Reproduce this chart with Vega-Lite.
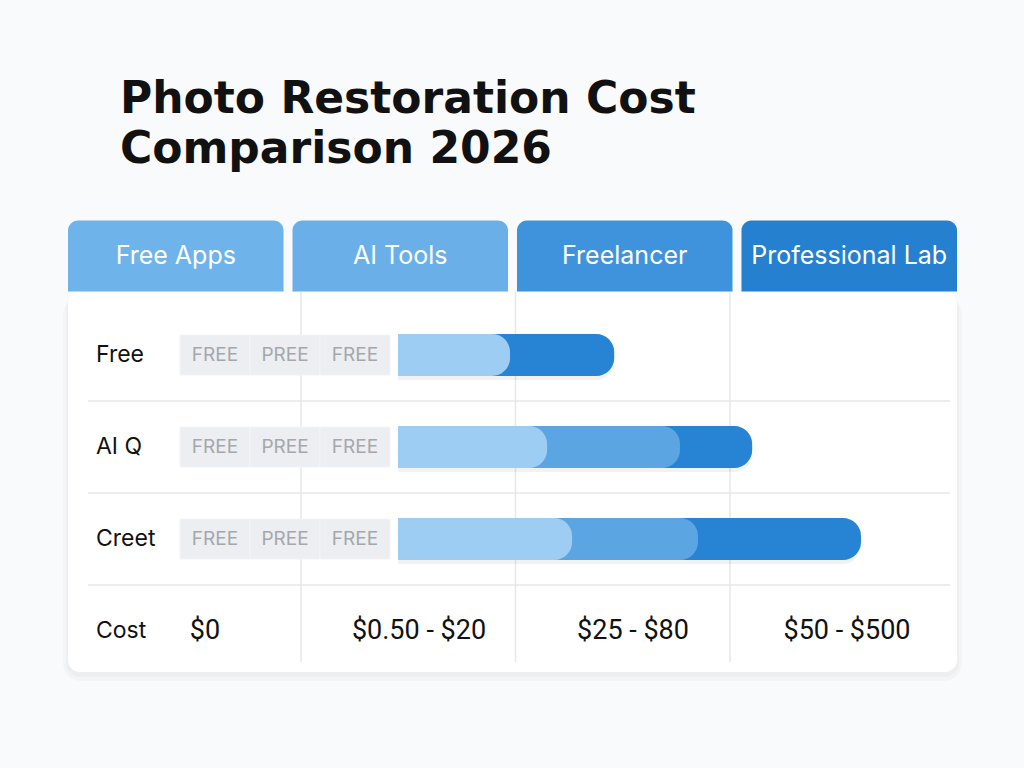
{
  "$schema": "https://vega.github.io/schema/vega-lite/v6.json",
  "width": 1024,
  "height": 568,
  "autosize": {"type": "none"},
  "padding": {"top": 200, "left": 0, "right": 0, "bottom": 0},
  "background": "#f9fafb",
  "title": {
    "text": ["Photo Restoration Cost", "Comparison 2026"],
    "anchor": "start",
    "frame": "group",
    "dx": 120,
    "offset": 28,
    "font": "DejaVu Sans",
    "fontSize": 44,
    "fontWeight": "bold",
    "lineHeight": 50,
    "color": "#111111"
  },
  "config": {
    "view": {"stroke": null},
    "axis": {"disable": true},
    "legend": {"disable": true}
  },
  "datasets": {
    "columns": [
      {"col": "Free Apps", "cost": "$0"},
      {"col": "AI Tools", "cost": "$0.50 - $20"},
      {"col": "Freelancer", "cost": "$25 - $80"},
      {"col": "Professional Lab", "cost": "$50 - $500"}
    ],
    "vlines": [
      {"col": "AI Tools"},
      {"col": "Freelancer"},
      {"col": "Professional Lab"}
    ],
    "rows": [
      {"row": "Free"},
      {"row": "AI Q"},
      {"row": "Creet"},
      {"row": "Cost"}
    ],
    "hlines": [
      {"row": "AI Q"},
      {"row": "Creet"},
      {"row": "Cost"}
    ],
    "slots": [
      {"row": "Free", "slot": 1, "tag": "FREE"},
      {"row": "Free", "slot": 2, "tag": "PREE"},
      {"row": "Free", "slot": 3, "tag": "FREE"},
      {"row": "AI Q", "slot": 1, "tag": "FREE"},
      {"row": "AI Q", "slot": 2, "tag": "PREE"},
      {"row": "AI Q", "slot": 3, "tag": "FREE"},
      {"row": "Creet", "slot": 1, "tag": "FREE"},
      {"row": "Creet", "slot": 2, "tag": "PREE"},
      {"row": "Creet", "slot": 3, "tag": "FREE"}
    ],
    "bars": [
      {"row": "Free", "tier": "Premium", "value": 46.7},
      {"row": "Free", "tier": "Basic", "value": 24.2},
      {"row": "AI Q", "tier": "Premium", "value": 76.5},
      {"row": "AI Q", "tier": "Standard", "value": 60.9},
      {"row": "AI Q", "tier": "Basic", "value": 32.2},
      {"row": "Creet", "tier": "Premium", "value": 100},
      {"row": "Creet", "tier": "Standard", "value": 64.8},
      {"row": "Creet", "tier": "Basic", "value": 37.6}
    ]
  },
  "resolve": {"scale": {"x": "independent", "color": "independent"}},
  "layer": [
    {
      "layer": [
        {
          "data": {"values": [{}]},
          "mark": {"type": "rect", "fill": "#000000", "opacity": 0.025, "cornerRadius": 18, "yOffset": -12, "y2Offset": 4, "xOffset": -5, "x2Offset": 5},
          "encoding": {
            "x": {"datum": "Free Apps", "type": "nominal", "bandPosition": 0, "scale": {"type": "band", "domain": ["Free Apps", "AI Tools", "Freelancer", "Professional Lab"], "range": [68, 957], "paddingInner": 0.04, "paddingOuter": 0}},
            "x2": {"datum": "Professional Lab", "bandPosition": 1},
            "y": {"datum": "Free", "type": "nominal", "bandPosition": 0, "scale": {"type": "band", "domain": ["header", "Free", "AI Q", "Creet", "Cost"], "range": [17, 477], "paddingInner": 0, "paddingOuter": 0}},
            "y2": {"datum": "Cost", "bandPosition": 1}
          }
        },
        {
          "data": {"values": [{}]},
          "mark": {"type": "rect", "fill": "#000000", "opacity": 0.025, "cornerRadius": 14, "yOffset": -15, "y2Offset": 0, "xOffset": -2, "x2Offset": 2},
          "encoding": {
            "x": {"datum": "Free Apps", "type": "nominal", "bandPosition": 0, "scale": {"type": "band", "domain": ["Free Apps", "AI Tools", "Freelancer", "Professional Lab"], "range": [68, 957], "paddingInner": 0.04, "paddingOuter": 0}},
            "x2": {"datum": "Professional Lab", "bandPosition": 1},
            "y": {"datum": "Free", "type": "nominal", "bandPosition": 0, "scale": {"type": "band", "domain": ["header", "Free", "AI Q", "Creet", "Cost"], "range": [17, 477], "paddingInner": 0, "paddingOuter": 0}},
            "y2": {"datum": "Cost", "bandPosition": 1}
          }
        },
        {
          "data": {"values": [{}]},
          "mark": {"type": "rect", "fill": "#ffffff", "cornerRadius": 12, "yOffset": -17, "y2Offset": -5},
          "encoding": {
            "x": {"datum": "Free Apps", "type": "nominal", "bandPosition": 0, "scale": {"type": "band", "domain": ["Free Apps", "AI Tools", "Freelancer", "Professional Lab"], "range": [68, 957], "paddingInner": 0.04, "paddingOuter": 0}},
            "x2": {"datum": "Professional Lab", "bandPosition": 1},
            "y": {"datum": "Free", "type": "nominal", "bandPosition": 0, "scale": {"type": "band", "domain": ["header", "Free", "AI Q", "Creet", "Cost"], "range": [17, 477], "paddingInner": 0, "paddingOuter": 0}},
            "y2": {"datum": "Cost", "bandPosition": 1}
          }
        },
        {
          "data": {"name": "hlines"},
          "mark": {"type": "rule", "color": "#e5e7ea", "strokeWidth": 1.5, "xOffset": 20, "x2Offset": -7},
          "encoding": {
            "x": {"datum": "Free Apps", "type": "nominal", "bandPosition": 0, "scale": {"type": "band", "domain": ["Free Apps", "AI Tools", "Freelancer", "Professional Lab"], "range": [68, 957], "paddingInner": 0.04, "paddingOuter": 0}},
            "x2": {"datum": "Professional Lab", "bandPosition": 1},
            "y": {"field": "row", "type": "nominal", "bandPosition": 0, "scale": {"type": "band", "domain": ["header", "Free", "AI Q", "Creet", "Cost"], "range": [17, 477], "paddingInner": 0, "paddingOuter": 0}}
          }
        },
        {
          "data": {"name": "columns"},
          "mark": {"type": "rect", "height": 71, "yOffset": -7, "cornerRadiusTopLeft": 10, "cornerRadiusTopRight": 10},
          "encoding": {
            "x": {"field": "col", "type": "nominal", "scale": {"type": "band", "domain": ["Free Apps", "AI Tools", "Freelancer", "Professional Lab"], "range": [68, 957], "paddingInner": 0.04, "paddingOuter": 0}},
            "y": {"datum": "header", "type": "nominal", "scale": {"type": "band", "domain": ["header", "Free", "AI Q", "Creet", "Cost"], "range": [17, 477], "paddingInner": 0, "paddingOuter": 0}},
            "color": {"field": "col", "type": "nominal", "scale": {"domain": ["Free Apps", "AI Tools", "Freelancer", "Professional Lab"], "range": ["#6eb3e9", "#6aafe7", "#3f93dc", "#2580d0"]}}
          }
        },
        {
          "data": {"name": "columns"},
          "mark": {"type": "text", "color": "#ffffff", "font": "Inter", "fontSize": 25, "fontWeight": 400, "yOffset": -7},
          "encoding": {
            "x": {"field": "col", "type": "nominal", "scale": {"type": "band", "domain": ["Free Apps", "AI Tools", "Freelancer", "Professional Lab"], "range": [68, 957], "paddingInner": 0.04, "paddingOuter": 0}},
            "y": {"datum": "header", "type": "nominal", "scale": {"type": "band", "domain": ["header", "Free", "AI Q", "Creet", "Cost"], "range": [17, 477], "paddingInner": 0, "paddingOuter": 0}},
            "text": {"field": "col"}
          }
        },
        {
          "data": {"name": "rows"},
          "mark": {"type": "text", "color": "#111111", "font": "Inter", "fontSize": 23, "fontWeight": 400, "align": "left", "dx": 28},
          "encoding": {
            "x": {"datum": "Free Apps", "type": "nominal", "bandPosition": 0, "scale": {"type": "band", "domain": ["Free Apps", "AI Tools", "Freelancer", "Professional Lab"], "range": [68, 957], "paddingInner": 0.04, "paddingOuter": 0}},
            "y": {"field": "row", "type": "nominal", "scale": {"type": "band", "domain": ["header", "Free", "AI Q", "Creet", "Cost"], "range": [17, 477], "paddingInner": 0, "paddingOuter": 0}},
            "text": {"field": "row"}
          }
        }
      ]
    },
    {
      "data": {"name": "vlines"},
      "mark": {"type": "rule", "color": "#e5e7ea", "strokeWidth": 1.5, "yOffset": -17, "y2Offset": -15},
      "encoding": {
        "x": {"field": "col", "type": "nominal", "bandPosition": 0, "scale": {"type": "band", "domain": ["AI Tools", "Freelancer", "Professional Lab"], "range": [301, 944.5], "paddingInner": 0, "paddingOuter": 0}},
        "y": {"datum": "Free", "type": "nominal", "bandPosition": 0, "scale": {"type": "band", "domain": ["header", "Free", "AI Q", "Creet", "Cost"], "range": [17, 477], "paddingInner": 0, "paddingOuter": 0}},
        "y2": {"datum": "Cost", "bandPosition": 1}
      }
    },
    {
      "data": {"name": "slots"},
      "layer": [
        {
          "mark": {"type": "rect", "fill": "#eceef1", "stroke": "#f3f4f6", "strokeWidth": 1, "height": 40},
          "encoding": {
            "x": {"field": "slot", "type": "ordinal", "scale": {"type": "band", "domain": [1, 2, 3], "range": [180, 390], "paddingInner": 0, "paddingOuter": 0}},
            "y": {"field": "row", "type": "nominal", "scale": {"type": "band", "domain": ["header", "Free", "AI Q", "Creet", "Cost"], "range": [17, 477], "paddingInner": 0, "paddingOuter": 0}}
          }
        },
        {
          "mark": {"type": "text", "color": "#a4a8ad", "font": "Inter", "fontSize": 19, "fontWeight": 400},
          "encoding": {
            "x": {"field": "slot", "type": "ordinal", "scale": {"type": "band", "domain": [1, 2, 3], "range": [180, 390], "paddingInner": 0, "paddingOuter": 0}},
            "y": {"field": "row", "type": "nominal", "scale": {"type": "band", "domain": ["header", "Free", "AI Q", "Creet", "Cost"], "range": [17, 477], "paddingInner": 0, "paddingOuter": 0}},
            "text": {"field": "tag"}
          }
        }
      ]
    },
    {
      "data": {"name": "bars"},
      "transform": [{"filter": "datum.tier === 'Premium'"}],
      "mark": {"type": "bar", "size": 42, "cornerRadiusEnd": 18, "color": "#000000", "opacity": 0.05, "yOffset": 4, "x2Offset": 3},
      "encoding": {
        "x": {"field": "value", "type": "quantitative", "stack": null, "scale": {"domain": [0, 100], "range": [398, 861]}},
        "y": {"field": "row", "type": "nominal", "scale": {"type": "band", "domain": ["header", "Free", "AI Q", "Creet", "Cost"], "range": [17, 477], "paddingInner": 0, "paddingOuter": 0}}
      }
    },
    {
      "data": {"name": "bars"},
      "mark": {"type": "bar", "size": 42, "cornerRadiusEnd": 18},
      "encoding": {
        "x": {"field": "value", "type": "quantitative", "stack": null, "scale": {"domain": [0, 100], "range": [398, 861]}},
        "y": {"field": "row", "type": "nominal", "scale": {"type": "band", "domain": ["header", "Free", "AI Q", "Creet", "Cost"], "range": [17, 477], "paddingInner": 0, "paddingOuter": 0}},
        "color": {"field": "tier", "type": "nominal", "scale": {"domain": ["Premium", "Standard", "Basic"], "range": ["#2783d3", "#5ba5e3", "#9dcdf2"]}}
      }
    },
    {
      "data": {"name": "columns"},
      "mark": {"type": "text", "color": "#111111", "font": "Roboto", "fontSize": 27},
      "encoding": {
        "x": {"field": "col", "type": "nominal", "scale": {"type": "band", "domain": ["Free Apps", "AI Tools", "Freelancer", "Professional Lab"], "range": [98, 954], "paddingInner": 0, "paddingOuter": 0}},
        "y": {"datum": "Cost", "type": "nominal", "scale": {"type": "band", "domain": ["header", "Free", "AI Q", "Creet", "Cost"], "range": [17, 477], "paddingInner": 0, "paddingOuter": 0}},
        "text": {"field": "cost"}
      }
    }
  ]
}
